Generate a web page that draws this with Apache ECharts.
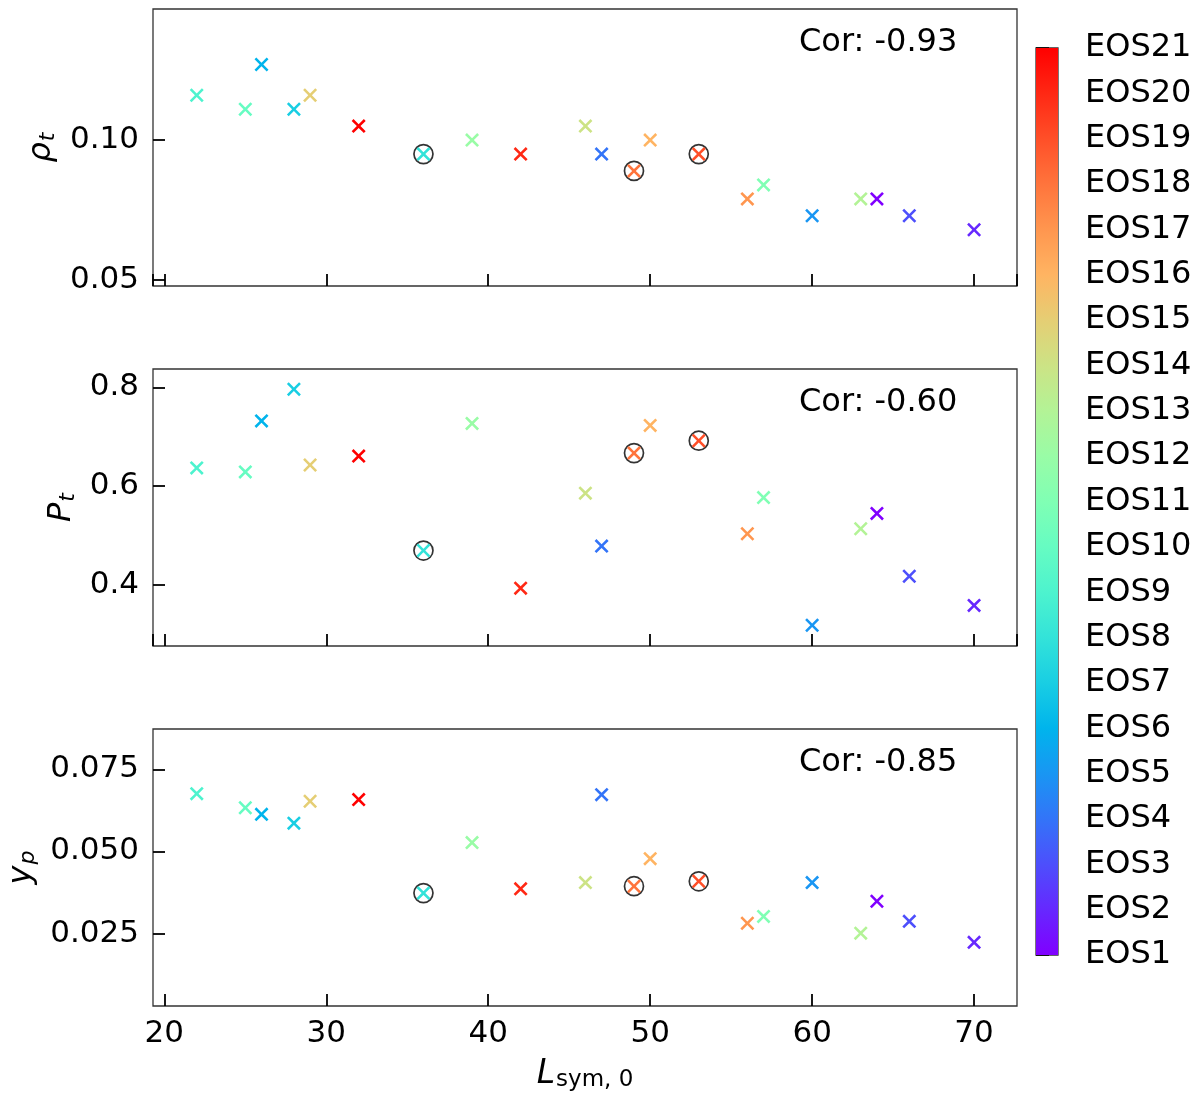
<!DOCTYPE html>
<html><head><meta charset="utf-8">
<script src="https://cdn.jsdelivr.net/npm/echarts@6/dist/echarts.min.js"></script>
<style>html,body{margin:0;padding:0;background:#fff}#c{width:1200px;height:1103px}</style>
</head><body><div id="c"></div>
<script>
// ---- data ----
const L_sym = [22, 25, 26, 28, 29, 32, 36, 39, 42, 46, 47, 49, 50, 53, 56, 57, 60, 63, 64, 66, 70];
const eosId = [9, 10, 6, 7, 15, 21, 8, 12, 20, 14, 4, 18, 16, 19, 17, 11, 5, 13, 1, 3, 2];
const rho_t = [0.116, 0.111, 0.127, 0.111, 0.116, 0.105, 0.095, 0.100, 0.095, 0.105, 0.095, 0.089, 0.100, 0.095, 0.079, 0.084, 0.073, 0.079, 0.079, 0.073, 0.068];
const P_t = [0.637, 0.629, 0.732, 0.796, 0.643, 0.661, 0.470, 0.727, 0.394, 0.586, 0.479, 0.667, 0.723, 0.692, 0.504, 0.577, 0.319, 0.514, 0.545, 0.418, 0.359];
const y_p = [0.0676, 0.0633, 0.0613, 0.0586, 0.0653, 0.0658, 0.0373, 0.0527, 0.0386, 0.0405, 0.0673, 0.0394, 0.0478, 0.0409, 0.0281, 0.0302, 0.0405, 0.0251, 0.0348, 0.0287, 0.0223];
const circledEos = [8, 18, 19];
const corLabels = ['Cor: -0.93', 'Cor: -0.60', 'Cor: -0.85'];
const eosLabels = ['EOS1','EOS2','EOS3','EOS4','EOS5','EOS6','EOS7','EOS8','EOS9','EOS10','EOS11','EOS12','EOS13','EOS14','EOS15','EOS16','EOS17','EOS18','EOS19','EOS20','EOS21'];
const yNames = ['{i|ρ}{s|t}', '{i|P}{s|t}', '{i|y}{s|p}'];
const xName = '{i|L}{s|sym, 0}';

// ---- layout / style ----
const FONT = 'DejaVu Sans';
const xRange = [19.3, 72.65];
const yRanges = [[0.0479, 0.1468], [0.277, 0.837], [0.0029, 0.0873]];
const yIntervals = [0.05, 0.2, 0.025];
const yDecimals = [2, 1, 3];
const yNameGaps = [90, 71, 100];
const panelTops = [9, 369, 729];
const panelH = 277, panelL = 153, panelW = 864;
const TICK_FS = 31, BIG_FS = 32;

function rainbow(i) {
  const t = (i - 1) / (eosLabels.length - 1);
  const clip = v => Math.max(0, Math.min(1, v));
  const r = clip(Math.abs(2 * t - 0.5)), g = clip(Math.sin(t * Math.PI)), b = clip(Math.cos(t * Math.PI / 2));
  return 'rgb(' + Math.round(r * 255) + ',' + Math.round(g * 255) + ',' + Math.round(b * 255) + ')';
}

const xSymbol = 'path://M0,1.3 L1.3,0 L5,3.7 L8.7,0 L10,1.3 L6.3,5 L10,8.7 L8.7,10 L5,6.3 L1.3,10 L0,8.7 L3.7,5 Z';
const panels = [rho_t, P_t, y_p];

const richName = {
  i: { fontFamily: FONT, fontStyle: 'italic', fontSize: 32, color: '#000' },
  s: { fontFamily: FONT, fontStyle: 'italic', fontSize: 22, color: '#000', verticalAlign: 'bottom', padding: [13, 0, 0, 1] }
};

const grid = [], xAxis = [], yAxis = [], series = [], graphic = [];
panels.forEach((vals, k) => {
  grid.push({ left: panelL, top: panelTops[k], width: panelW, height: panelH, show: true, borderColor: '#333', borderWidth: 1.3, backgroundColor: 'transparent', containLabel: false, outerBoundsMode: 'none' });
  xAxis.push({
    gridIndex: k, type: 'value', min: xRange[0], max: xRange[1], splitNumber: 5, minInterval: 10, maxInterval: 10,
    axisLine: { show: false }, splitLine: { show: false },
    axisTick: { show: true, inside: true, length: 12, lineStyle: { color: '#000', width: 1.8 } },
    axisLabel: {
      show: k === 2, margin: 12, fontSize: TICK_FS, fontFamily: FONT, color: '#000', showMinLabel: false, showMaxLabel: false,
      formatter: v => (Math.abs(v / 10 - Math.round(v / 10)) < 1e-6 ? String(Math.round(v)) : '')
    },
    name: k === 2 ? xName : '', nameLocation: 'middle', nameGap: 50,
    nameTextStyle: { rich: { i: { fontFamily: FONT, fontStyle: 'italic', fontSize: 33, color: '#000' }, s: { fontFamily: FONT, fontSize: 23, color: '#000', verticalAlign: 'bottom', padding: [13, 0, 0, 1] } } }
  });
  const iv = yIntervals[k], dec = yDecimals[k];
  yAxis.push({
    gridIndex: k, type: 'value', min: yRanges[k][0], max: yRanges[k][1], minInterval: iv, maxInterval: iv, splitNumber: 2,
    axisLine: { show: false }, splitLine: { show: false },
    axisTick: { show: true, inside: true, length: 12, lineStyle: { color: '#000', width: 1.8 } },
    axisLabel: {
      margin: 14, fontSize: TICK_FS, fontFamily: FONT, color: '#000', showMinLabel: false, showMaxLabel: false,
      formatter: v => (Math.abs(v / iv - Math.round(v / iv)) < 1e-6 ? v.toFixed(dec) : '')
    },
    name: yNames[k], nameLocation: 'middle', nameGap: yNameGaps[k], nameRotate: 90,
    nameTextStyle: { rich: richName }
  });
  // circles around highlighted EOS
  series.push({
    type: 'scatter', xAxisIndex: k, yAxisIndex: k, symbol: 'circle', symbolSize: 19, silent: true, z: 2,
    itemStyle: { color: 'rgba(0,0,0,0)', borderColor: '#000', borderWidth: 1.7 },
    data: L_sym.map((x, j) => circledEos.includes(eosId[j]) ? [x, vals[j]] : null).filter(d => d)
  });
  series.push({
    type: 'scatter', xAxisIndex: k, yAxisIndex: k, symbol: xSymbol, symbolSize: 14, z: 3,
    data: L_sym.map((x, j) => ({ value: [x, vals[j]], itemStyle: { color: rainbow(eosId[j]), opacity: 1 } }))
  });
  graphic.push({ type: 'text', left: 799, top: panelTops[k] + 18, style: { text: corLabels[k], fontFamily: FONT, fontSize: BIG_FS, fill: '#000' } });
});

// colorbar
grid.push({ left: 1036, top: 48, width: 22, height: 907, show: true, borderColor: '#333', borderWidth: 1.3, backgroundColor: 'transparent', containLabel: false, outerBoundsMode: 'none' });
xAxis.push({ gridIndex: 3, type: 'value', min: 0, max: 1, show: false });
yAxis.push({
  gridIndex: 3, type: 'value', position: 'right', min: 1, max: eosLabels.length, minInterval: 1, maxInterval: 1,
  axisLine: { show: false }, splitLine: { show: false },
  axisTick: { show: true, inside: false, length: 13, lineStyle: { color: '#000', width: 1.6 } },
  axisLabel: { margin: 27, fontSize: BIG_FS, fontFamily: FONT, color: '#000', formatter: v => eosLabels[Math.round(v) - 1] || '' }
});
const stops = eosLabels.map((_, i) => ({ offset: i / (eosLabels.length - 1), color: rainbow(i + 1) }));
series.push({
  type: 'custom', xAxisIndex: 3, yAxisIndex: 3, silent: true, z: 1,
  encode: { x: [0, 1], y: [2, 3] },
  data: [[0, 1, 1, eosLabels.length]],
  renderItem: (params, api) => {
    const p0 = api.coord([api.value(0), api.value(2)]);
    const p1 = api.coord([api.value(1), api.value(3)]);
    return { type: 'rect', shape: { x: p0[0], y: p1[1], width: p1[0] - p0[0], height: p0[1] - p1[1] },
      style: { fill: { type: 'linear', x: 0, y: 1, x2: 0, y2: 0, colorStops: stops } } };
  }
});

const chart = echarts.init(document.getElementById('c'), null, { renderer: 'canvas' });
chart.setOption({ animation: false, backgroundColor: '#fff', grid, xAxis, yAxis, series, graphic });
</script></body></html>
